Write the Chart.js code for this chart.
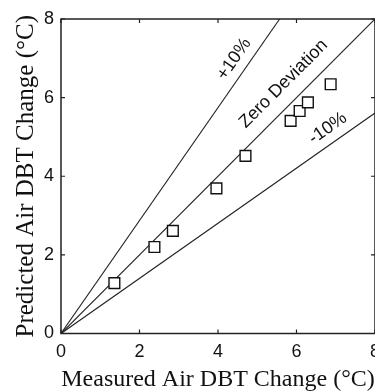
<!DOCTYPE html>
<html><head><meta charset="utf-8">
<script src="https://cdn.jsdelivr.net/npm/chart.js@4"></script>
<style>
html,body{margin:0;padding:0;background:#fff;overflow:hidden;width:375px;height:392px}
#wrap{width:390px;height:392px}
</style></head>
<body><div id="wrap"><canvas id="c" width="390" height="392"></canvas></div>
<script>
const measured  = [1.36, 2.38, 2.85, 3.96, 4.70, 5.85, 6.08, 6.29, 6.87];
const predicted = [1.28, 2.20, 2.61, 3.69, 4.52, 5.41, 5.66, 5.88, 6.34];
const xTicks = [0, 2, 4, 6, 8];
const yTicks = [0, 2, 4, 6, 8];
const plusLineX  = [0, 5.57]; const plusLineY  = [0, 8];
const zeroLineX  = [0, 8];    const zeroLineY  = [0, 8];
const minusLineX = [0, 8];    const minusLineY = [0, 5.61];
const lineLabels = ['+10%', 'Zero Deviation', '-10%'];
const labelX = [4.41, 5.67, 6.80];
const labelY = [6.98, 6.35, 5.22];
const xTitle = 'Measured Air DBT Change (°C)';
const yTitle = 'Predicted Air DBT Change (°C)';

const toPts = (xs, ys) => xs.map((x, i) => ({x: x, y: ys[i]}));
const lineSets = [[plusLineX, plusLineY], [zeroLineX, zeroLineY], [minusLineX, minusLineY]];

const boxPlugin = {
  id: 'box',
  afterDraw(chart) {
    const {ctx, chartArea: a, scales: {x, y}} = chart;
    ctx.save();
    ctx.strokeStyle = '#222';
    ctx.lineWidth = 1.5;
    ctx.strokeRect(a.left, a.top, a.right - a.left, a.bottom - a.top);
    ctx.lineWidth = 1.2;
    ctx.beginPath();
    xTicks.forEach(v => {
      const px = x.getPixelForValue(v);
      ctx.moveTo(px, a.bottom); ctx.lineTo(px, a.bottom - 4);
      ctx.moveTo(px, a.top); ctx.lineTo(px, a.top + 4);
    });
    yTicks.forEach(v => {
      const py = y.getPixelForValue(v);
      ctx.moveTo(a.left, py); ctx.lineTo(a.left + 4, py);
      ctx.moveTo(a.right, py); ctx.lineTo(a.right - 4, py);
    });
    ctx.stroke();
    // line labels
    ctx.fillStyle = '#111';
    ctx.font = '18px "Liberation Sans", Arial, sans-serif';
    ctx.textAlign = 'center';
    ctx.textBaseline = 'middle';
    lineLabels.forEach((t, i) => {
      const [lx, ly] = lineSets[i];
      const dx = x.getPixelForValue(lx[1]) - x.getPixelForValue(lx[0]);
      const dy = y.getPixelForValue(ly[1]) - y.getPixelForValue(ly[0]);
      const ang = Math.atan2(dy, dx);
      ctx.save();
      ctx.translate(x.getPixelForValue(labelX[i]), y.getPixelForValue(labelY[i]));
      ctx.rotate(ang);
      ctx.fillText(t, 0, 0);
      ctx.restore();
    });
    ctx.restore();
  }
};

const lineDs = (xs, ys) => ({
  type: 'scatter', data: toPts(xs, ys), showLine: true,
  borderColor: '#222', borderWidth: 1.1, pointRadius: 0, fill: false, order: 2
});

new Chart(document.getElementById('c'), {
  type: 'scatter',
  data: {
    datasets: [
      lineDs(plusLineX, plusLineY),
      lineDs(zeroLineX, zeroLineY),
      lineDs(minusLineX, minusLineY),
      {
        data: toPts(measured, predicted),
        pointStyle: 'rect', pointRadius: 7.6, pointHoverRadius: 7.6,
        pointBackgroundColor: '#fff', pointBorderColor: '#111', pointBorderWidth: 1.4,
        showLine: false, order: 1
      }
    ]
  },
  options: {
    responsive: false, animation: false, devicePixelRatio: 1,
    layout: {padding: {left: 0, right: 15, top: 19, bottom: 0}},
    plugins: {legend: {display: false}, tooltip: {enabled: false}},
    scales: {
      x: {
        type: 'linear', min: 0, max: 8,
        afterBuildTicks: s => { s.ticks = xTicks.map(v => ({value: v})); },
        afterFit: s => { s.height = 58.5; s.paddingLeft = 0; s.paddingRight = 0; },
        grid: {display: false, drawTicks: false},
        border: {display: false},
        ticks: {color: '#111', padding: 8, font: {family: '"Liberation Sans", Arial, sans-serif', size: 18}, maxRotation: 0},
        title: {display: true, text: xTitle, color: '#111', padding: {top: 0, bottom: -2},
                font: {family: '"Liberation Serif", "Times New Roman", serif', size: 24}}
      },
      y: {
        type: 'linear', min: 0, max: 8,
        afterBuildTicks: s => { s.ticks = yTicks.map(v => ({value: v})); },
        afterFit: s => { s.width = 61; s.paddingTop = 0; s.paddingBottom = 0; },
        grid: {display: false, drawTicks: false},
        border: {display: false},
        ticks: {color: '#111', padding: 7, font: {family: '"Liberation Sans", Arial, sans-serif', size: 18}},
        title: {display: true, text: yTitle, color: '#111', padding: {top: 11, bottom: 0},
                font: {family: '"Liberation Serif", "Times New Roman", serif', size: 25}}
      }
    }
  },
  plugins: [boxPlugin]
});
</script>
</body></html>
